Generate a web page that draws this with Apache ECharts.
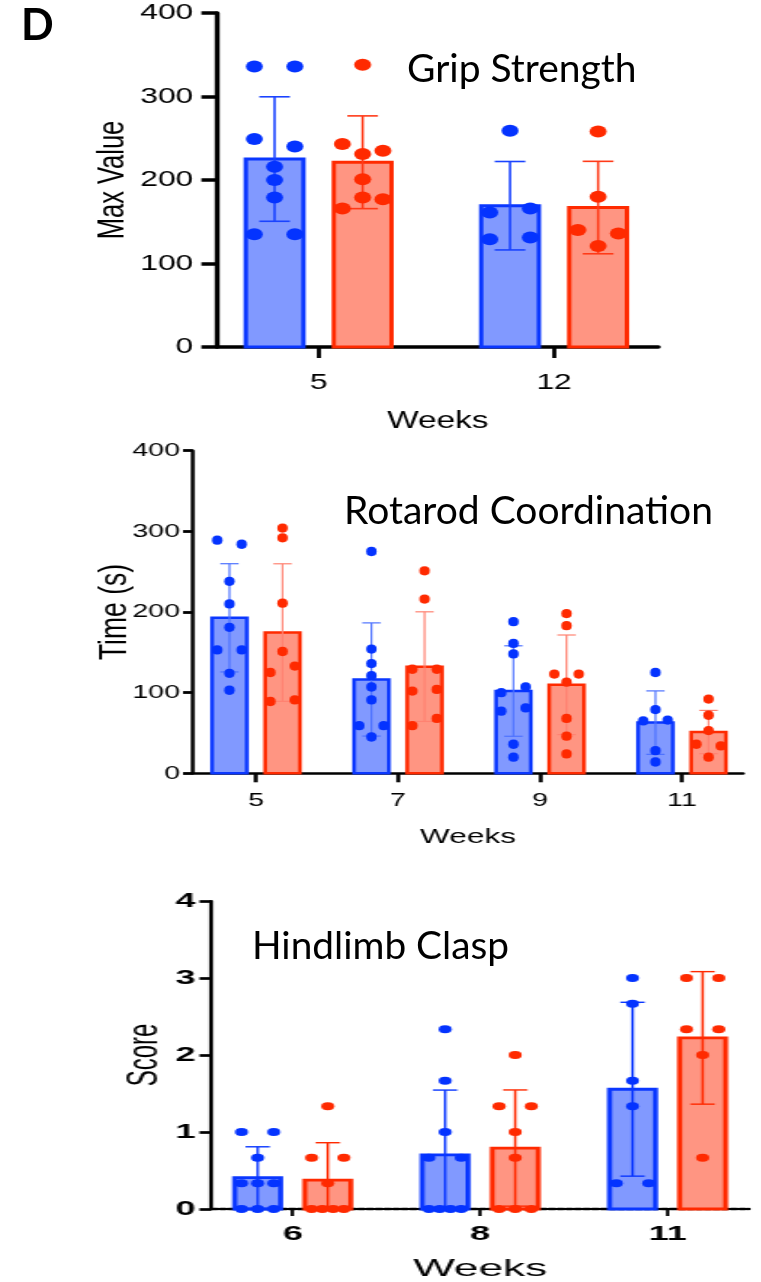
<!DOCTYPE html>
<html>
<head>
<meta charset="utf-8">
<script src="https://cdn.jsdelivr.net/npm/echarts@6/dist/echarts.min.js"></script>
<style>
  html, body { margin: 0; padding: 0; background: #fff; }
  #page { position: relative; width: 761px; height: 1282px; overflow: hidden; }
  .panel { position: absolute; left: 0; transform-origin: 0 0; }
  #titles { position: absolute; left: 0; top: 0; width: 761px; height: 1282px; pointer-events: none; }
</style>
</head>
<body>
<div id="page">
  <div id="grip" class="panel"></div>
  <div id="rotarod" class="panel"></div>
  <div id="clasp" class="panel"></div>
  <div id="titles"></div>
</div>
<script>
// ---- Grip strength: max value per animal, weeks 5 and 12 ----
const gripWeeks = ['5', '12'];
const gripTicks = [0, 100, 200, 300, 400];
const gripBlue = [
  [336, 336, 249, 240, 216, 200, 179, 135, 135],
  [259, 161, 166, 129, 131]
];
const gripRed = [
  [338, 243, 231, 235, 201, 166, 179, 177],
  [258, 180, 140, 136, 121]
];

// ---- Rotarod coordination: time on rod (s), weeks 5-11 ----
const rotarodWeeks = ['5', '7', '9', '11'];
const rotarodTicks = [0, 100, 200, 300, 400];
const rotarodBlue = [
  [289, 284, 238, 210, 181, 153, 153, 124, 103],
  [275, 154, 136, 121, 107, 91, 59, 59, 45],
  [188, 161, 148, 100, 107, 77, 81, 36, 20],
  [125, 79, 65, 66, 28, 14]
];
const rotarodRed = [
  [292, 304, 211, 151, 125, 133, 89, 91],
  [251, 216, 129, 129, 102, 104, 59, 68],
  [198, 183, 123, 113, 123, 68, 46, 24],
  [92, 72, 53, 36, 34, 20]
];

// ---- Hindlimb clasp score, weeks 6, 8, 11 ----
const claspWeeks = ['6', '8', '11'];
const claspTicks = [0, 1, 2, 3, 4];
const claspBlue = [
  [1, 1, 0.667, 0.333, 0.333, 0.333, 0, 0, 0],
  [2.333, 1.667, 1, 0.667, 0.667, 0, 0, 0, 0],
  [3, 2.667, 1.667, 1.333, 0.333, 0.333]
];
const claspRed = [
  [1.333, 0.667, 0.667, 0.333, 0, 0, 0, 0],
  [2, 1.333, 1.333, 1, 0.667, 0, 0, 0],
  [3, 3, 2.333, 2.333, 2, 0.667]
];

// group geometry, in units of one category step
const BAR_OFFSET = 0.187;
const BAR_WIDTH = 0.245;
const CAP_WIDTH = 0.13;
const SPREAD = 0.172;

const BLUE = { edge: '#0a37ff', fill: '#8199ff', dot: '#0433ff' };
const RED = { edge: '#ff2a00', fill: '#ff9582', dot: '#ff2a00' };
const LABEL_FONT = 'Liberation Sans';

function mean(a) { return a.reduce((s, v) => s + v, 0) / a.length; }
function sdev(a) {
  const m = mean(a);
  return Math.sqrt(a.reduce((s, v) => s + (v - m) * (v - m), 0) / (a.length - 1));
}

// horizontal spread of dots that would overlap vertically
function spreadOffsets(values, pxPerValue, threshold) {
  const order = values.map((v, i) => i).sort((a, b) => values[b] - values[a] || a - b);
  const offs = new Array(values.length).fill(0);
  let cluster = [order[0]];
  const flush = () => {
    const members = cluster.slice().sort((a, b) => a - b);
    const k = members.length;
    members.forEach((m, j) => { offs[m] = k === 1 ? 0 : -SPREAD / 2 + SPREAD * j / (k - 1); });
  };
  for (let j = 1; j < order.length; j++) {
    if ((values[order[j - 1]] - values[order[j]]) * pxPerValue < threshold) cluster.push(order[j]);
    else { flush(); cluster = [order[j]]; }
  }
  flush();
  return offs;
}

function barSeries(groups, sign, pal, cfg) {
  return {
    type: 'custom',
    z: 2,
    clip: false,
    data: groups.map((g, i) => [i, mean(g), sdev(g)]),
    renderItem: function (params, api) {
      const i = api.value(0), m = api.value(1), d = api.value(2);
      const xc = i + sign * BAR_OFFSET;
      const tl = api.coord([xc - BAR_WIDTH / 2, m]);
      const br = api.coord([xc + BAR_WIDTH / 2, 0]);
      const hi = api.coord([xc, m + d]);
      const lo = api.coord([xc, Math.max(0, m - d)]);
      const cl = api.coord([xc - CAP_WIDTH / 2, 0])[0];
      const cr = api.coord([xc + CAP_WIDTH / 2, 0])[0];
      const errStyle = { stroke: sign < 0 ? cfg.errBlue : cfg.errRed, lineWidth: cfg.errWidth };
      const children = [
        { type: 'rect', shape: { x: tl[0], y: tl[1], width: br[0] - tl[0], height: br[1] - tl[1] },
          style: { fill: pal.fill, stroke: pal.edge, lineWidth: cfg.barLine } },
        { type: 'line', shape: { x1: hi[0], y1: hi[1], x2: lo[0], y2: lo[1] }, style: errStyle },
        { type: 'line', shape: { x1: cl, y1: hi[1], x2: cr, y2: hi[1] }, style: errStyle }
      ];
      if (m - d > 0) {
        children.push({ type: 'line', shape: { x1: cl, y1: lo[1], x2: cr, y2: lo[1] }, style: errStyle });
      }
      return { type: 'group', children: children };
    }
  };
}

function dotSeries(groups, sign, pal, cfg) {
  const data = [];
  groups.forEach((g, i) => {
    const offs = spreadOffsets(g, cfg.pxPerValue, cfg.dotSize[1]);
    g.forEach((v, j) => data.push([i + sign * BAR_OFFSET + offs[j], v]));
  });
  return {
    type: 'scatter',
    z: 5,
    data: data,
    symbol: 'circle',
    symbolSize: [cfg.dotSize[0] / cfg.stretch, cfg.dotSize[1]],
    itemStyle: { color: pal.dot, opacity: 1 },
    emphasis: { disabled: true },
    silent: true
  };
}

function buildPanel(id, cfg) {
  const el = document.getElementById(id);
  const s = cfg.stretch;
  const W = 761 / s;
  el.style.top = cfg.top + 'px';
  el.style.width = W + 'px';
  el.style.height = cfg.height + 'px';
  el.style.transform = 'scaleX(' + s + ')';
  const chart = echarts.init(el, null, { renderer: 'canvas', width: W, height: cfg.height });
  const catIdx = cfg.cats.map((c, i) => i);
  chart.setOption({
    animation: false,
    backgroundColor: 'transparent',
    grid: {
      left: cfg.axisX0 / s, top: cfg.axisY0,
      width: (cfg.axisX1 - cfg.axisX0) / s, height: cfg.axisY1 - cfg.axisY0,
      containLabel: false, outerBoundsMode: 'none'
    },
    xAxis: {
      type: 'value', min: cfg.xMin, max: cfg.xMax,
      axisLine: { show: true, onZero: false, lineStyle: { color: '#000', width: cfg.xLine, type: cfg.xLineType || 'solid' } },
      axisTick: { show: true, customValues: catIdx, length: cfg.xTickLen, lineStyle: { color: '#000', width: cfg.xTickWidth } },
      axisLabel: { show: true, customValues: catIdx, formatter: v => cfg.cats[Math.round(v)],
        color: '#000', fontFamily: LABEL_FONT, fontSize: cfg.labelSize, fontWeight: cfg.labelWeight || 'normal',
        margin: cfg.xLabelMargin },
      splitLine: { show: false },
      name: 'Weeks', nameLocation: 'middle', nameGap: cfg.xNameGap, nameMoveOverlap: false,
      nameTextStyle: { color: '#000', fontFamily: LABEL_FONT, fontSize: cfg.xNameSize }
    },
    yAxis: {
      type: 'value', min: cfg.yTicks[0], max: cfg.yTicks[cfg.yTicks.length - 1],
      interval: cfg.yTicks[1] - cfg.yTicks[0],
      axisLine: { show: true, onZero: false, lineStyle: { color: '#000', width: cfg.yLine } },
      axisTick: { show: true, length: cfg.yTickLen / s, lineStyle: { color: '#000', width: cfg.yTickWidth } },
      axisLabel: { color: '#000', fontFamily: LABEL_FONT, fontSize: cfg.labelSize, fontWeight: cfg.labelWeight || 'normal',
        margin: cfg.yLabelMargin / s },
      splitLine: { show: false },
      name: cfg.yName, nameLocation: 'middle', nameGap: cfg.yNameGap / s, nameRotate: 90, nameMoveOverlap: false,
      nameTextStyle: { color: '#000', fontFamily: LABEL_FONT, fontSize: cfg.yNameSize }
    },
    series: [
      barSeries(cfg.blue, -1, BLUE, cfg),
      barSeries(cfg.red, 1, RED, cfg),
      dotSeries(cfg.blue, -1, BLUE, cfg),
      dotSeries(cfg.red, 1, RED, cfg)
    ]
  });
}

buildPanel('grip', {
  top: 0, height: 440, stretch: 1.45,
  axisX0: 217, axisX1: 657, axisY0: 13, axisY1: 347,
  xMin: -0.4298, xMax: 1.4426,
  cats: gripWeeks, yTicks: gripTicks, blue: gripBlue, red: gripRed,
  pxPerValue: 334 / 400, dotSize: [17, 12],
  barLine: 3, errWidth: 1.6, errBlue: '#1a43ff', errRed: '#ff3a18',
  xLine: 3.5, yLine: 3.4, xTickLen: 11, xTickWidth: 2.8, yTickLen: 16, yTickWidth: 3.5,
  labelSize: 22, xLabelMargin: 25, yLabelMargin: 24, xNameGap: 63, xNameSize: 23,
  yName: 'Max Value', yNameSize: 25.5, yNameGap: 85
});

buildPanel('rotarod', {
  top: 440, height: 440, stretch: 1.5,
  axisX0: 193, axisX1: 743, axisY0: 10.7, axisY1: 333.3,
  xMin: -0.4437, xMax: 3.4296,
  cats: rotarodWeeks, yTicks: rotarodTicks, blue: rotarodBlue, red: rotarodRed,
  pxPerValue: 322.6 / 400, dotSize: [10.5, 9.3],
  barLine: 2.5, errWidth: 1.2, errBlue: '#4d72ff', errRed: '#ff8271',
  xLine: 2.6, yLine: 2.5, xTickLen: 9, xTickWidth: 2.6, yTickLen: 10, yTickWidth: 2.8,
  labelSize: 19, xLabelMargin: 18, yLabelMargin: 13, xNameGap: 53, xNameSize: 21,
  yName: 'Time (s)', yNameSize: 26.5, yNameGap: 57
});

buildPanel('clasp', {
  top: 880, height: 402, stretch: 1.8,
  axisX0: 211, axisX1: 747, axisY0: 21, axisY1: 329,
  xMin: -0.4332, xMax: 2.4332,
  cats: claspWeeks, yTicks: claspTicks, blue: claspBlue, red: claspRed,
  pxPerValue: 308 / 4, dotSize: [13, 8],
  barLine: 2.8, errWidth: 1.4, errBlue: '#0a37ff', errRed: '#ff2a00',
  xLine: 2.4, xLineType: [3, 1.8], yLine: 2.2, xTickLen: 7, xTickWidth: 1.8, yTickLen: 12, yTickWidth: 2.7,
  labelSize: 20, labelWeight: 'bold', xLabelMargin: 15, yLabelMargin: 16, xNameGap: 48, xNameSize: 24.5,
  yName: 'Score', yNameSize: 24, yNameGap: 44
});

// panel letter and panel titles
const titles = echarts.init(document.getElementById('titles'), null, { renderer: 'canvas', width: 761, height: 1282 });
function titleText(text, x, y, size, weight) {
  return {
    type: 'text', x: x, y: y, silent: true,
    style: {
      text: text, fill: '#000', fontFamily: 'Lato', fontSize: size, fontWeight: weight || 'normal',
      align: 'left', verticalAlign: 'middle', textAlign: 'left', textVerticalAlign: 'middle'
    }
  };
}
titles.setOption({
  animation: false,
  graphic: [
    titleText('D', 21, 26, 43, 'bold'),
    titleText('Grip Strength', 407, 69, 39),
    titleText('Rotarod Coordination', 344, 511, 39),
    titleText('Hindlimb Clasp', 252, 946, 38.8)
  ]
});
</script>
</body>
</html>
